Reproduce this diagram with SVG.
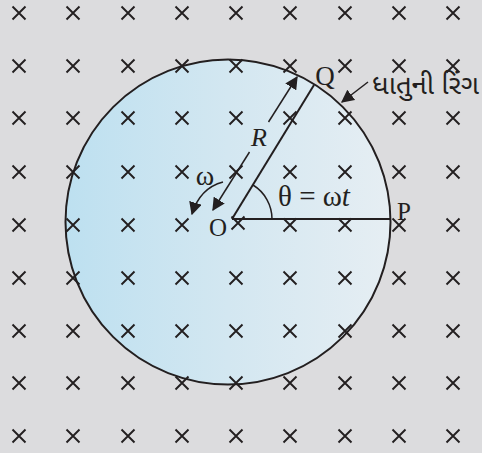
<svg xmlns="http://www.w3.org/2000/svg" width="482" height="453" viewBox="0 0 482 453">
<defs>
<linearGradient id="ring" x1="0" y1="0" x2="1" y2="0">
<stop offset="0" stop-color="#bde0f0"/>
<stop offset="0.5" stop-color="#d3e7f1"/>
<stop offset="1" stop-color="#e6eef3"/>
</linearGradient>
<marker id="ahb" viewBox="0 0 10 10" refX="9" refY="5" markerWidth="13" markerHeight="13" markerUnits="userSpaceOnUse" orient="auto">
<path d="M0,0 L10,5 L0,10 z" fill="#231f20"/>
</marker>
<path id="x" d="M-6.5,-6.5 L6.5,6.5 M-6.5,6.5 L6.5,-6.5"/>
</defs>
<style>
.bg{fill:#dcdcde}
.xm{stroke:#231f20;stroke-width:1.9;fill:none}
.ln{stroke:#231f20;stroke-width:2;fill:none}
.thin{stroke:#231f20;stroke-width:1.5;fill:none}
.t{font-family:"Liberation Serif",serif;fill:#231f20}
.g{font-family:"Noto Sans Gujarati","Lohit Gujarati","Noto Serif Gujarati",sans-serif;fill:#231f20}
</style>
<rect class="bg" x="0" y="0" width="482" height="453"/>
<g id="ring-disc">
<circle cx="228" cy="222" r="162.5" fill="url(#ring)" stroke="#231f20" stroke-width="2"/>
</g>
<g id="field" class="xm">
<use href="#x" x="19" y="13"/><use href="#x" x="73" y="13"/><use href="#x" x="128" y="13"/><use href="#x" x="182" y="13"/><use href="#x" x="236" y="13"/><use href="#x" x="290" y="13"/><use href="#x" x="345" y="13"/><use href="#x" x="399" y="13"/><use href="#x" x="453" y="13"/>
<use href="#x" x="19" y="66"/><use href="#x" x="73" y="66"/><use href="#x" x="128" y="66"/><use href="#x" x="182" y="66"/><use href="#x" x="236" y="66"/><use href="#x" x="290" y="66"/><use href="#x" x="345" y="66"/><use href="#x" x="399" y="66"/><use href="#x" x="453" y="66"/>
<use href="#x" x="19" y="118"/><use href="#x" x="73" y="118"/><use href="#x" x="128" y="118"/><use href="#x" x="182" y="118"/><use href="#x" x="236" y="118"/><use href="#x" x="290" y="118"/><use href="#x" x="345" y="118"/><use href="#x" x="399" y="118"/><use href="#x" x="453" y="118"/>
<use href="#x" x="19" y="172"/><use href="#x" x="73" y="172"/><use href="#x" x="128" y="172"/><use href="#x" x="182" y="172"/><use href="#x" x="236" y="172"/><use href="#x" x="290" y="172"/><use href="#x" x="345" y="172"/><use href="#x" x="399" y="172"/><use href="#x" x="453" y="172"/>
<use href="#x" x="19" y="225"/><use href="#x" x="73" y="225"/><use href="#x" x="128" y="225"/><use href="#x" x="182" y="225"/><use href="#x" x="238" y="223"/><use href="#x" x="290" y="225"/><use href="#x" x="345" y="225"/><use href="#x" x="399" y="225"/><use href="#x" x="453" y="225"/>
<use href="#x" x="19" y="278"/><use href="#x" x="73" y="278"/><use href="#x" x="128" y="278"/><use href="#x" x="182" y="278"/><use href="#x" x="236" y="278"/><use href="#x" x="290" y="278"/><use href="#x" x="345" y="278"/><use href="#x" x="399" y="278"/><use href="#x" x="453" y="278"/>
<use href="#x" x="19" y="331"/><use href="#x" x="73" y="331"/><use href="#x" x="128" y="331"/><use href="#x" x="182" y="331"/><use href="#x" x="236" y="331"/><use href="#x" x="290" y="331"/><use href="#x" x="345" y="331"/><use href="#x" x="399" y="331"/><use href="#x" x="453" y="331"/>
<use href="#x" x="19" y="383"/><use href="#x" x="73" y="383"/><use href="#x" x="128" y="383"/><use href="#x" x="182" y="383"/><use href="#x" x="236" y="383"/><use href="#x" x="290" y="383"/><use href="#x" x="345" y="383"/><use href="#x" x="399" y="383"/><use href="#x" x="453" y="383"/>
<use href="#x" x="19" y="436"/><use href="#x" x="73" y="436"/><use href="#x" x="128" y="436"/><use href="#x" x="182" y="436"/><use href="#x" x="236" y="436"/><use href="#x" x="290" y="436"/><use href="#x" x="345" y="436"/><use href="#x" x="399" y="436"/><use href="#x" x="453" y="436"/>
</g>
<g id="connectors">
<line class="ln" x1="232" y1="219" x2="390" y2="219"/>
<line class="ln" x1="232" y1="219" x2="314" y2="85"/>
<path class="thin" d="M272,219 A40,40 0 0 0 253,185"/>
<line class="thin" x1="249.5" y1="152" x2="213" y2="210" marker-end="url(#ahb)"/>
<line class="thin" x1="268.5" y1="122" x2="297" y2="77" marker-end="url(#ahb)"/>
<path class="thin" d="M223,182 Q200,188 192,214" marker-end="url(#ahb)"/>
<line class="thin" x1="368" y1="82" x2="342" y2="102" marker-end="url(#ahb)"/>
</g>
<g id="labels">
<text class="t" x="259" y="146" text-anchor="middle" style="font-size:26px;font-style:italic">R</text>
<text class="t" x="205" y="185" text-anchor="middle" style="font-size:28px">ω</text>
<text class="t" x="218" y="236" text-anchor="middle" style="font-size:25px">O</text>
<text class="t" x="278" y="206" style="font-size:29px">θ = ω<tspan style="font-style:italic">t</tspan></text>
<text class="t" x="404" y="220" text-anchor="middle" style="font-size:25px">P</text>
<text class="t" x="325" y="85" text-anchor="middle" style="font-size:27px">Q</text>
<text class="g" x="372" y="94" style="font-size:27px" textLength="107" lengthAdjust="spacingAndGlyphs">ધાતુની રિંગ</text>
</g>
</svg>
